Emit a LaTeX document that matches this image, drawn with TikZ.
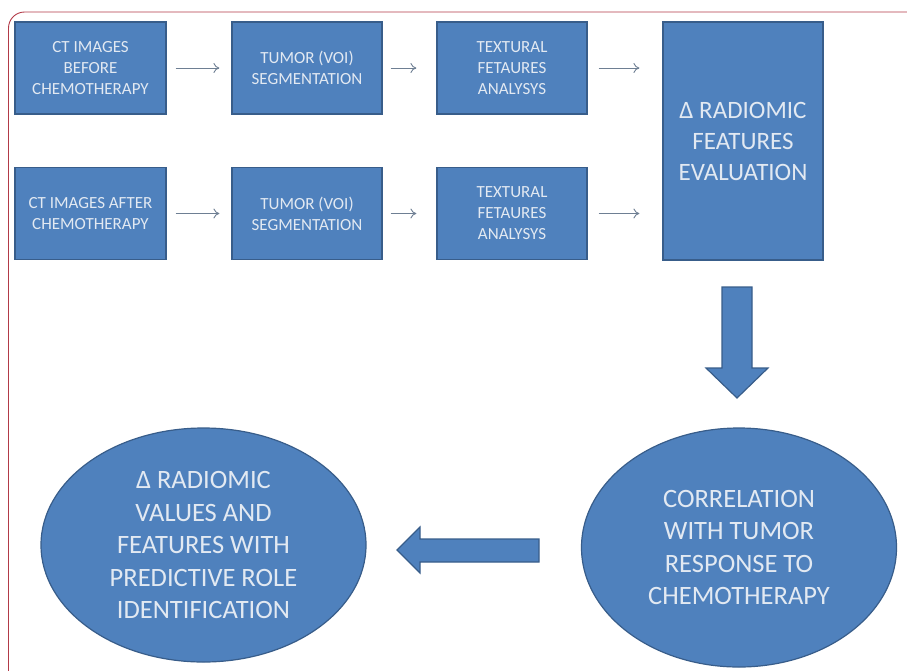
\documentclass[tikz,border=0pt]{standalone}
\usepackage{fontspec}
\setmainfont{Carlito}
\usetikzlibrary{shapes.geometric,arrows.meta}
\definecolor{boxblue}{HTML}{4F81BD}
\definecolor{boxedge}{HTML}{385D8A}
\definecolor{txt}{HTML}{E2E9F2}
\definecolor{arrgray}{HTML}{6E7F93}
\definecolor{frame}{HTML}{B23A48}
\tikzset{
  stepbox/.style={draw=boxedge, line width=1.2pt, fill=boxblue, text=txt, align=center,
    inner sep=0pt, font=\fontsize{17}{21}\selectfont},
  bigbox/.style={stepbox, font=\fontsize{25}{31}\selectfont},
  oval/.style={ellipse, draw=boxedge, line width=1.2pt, fill=boxblue, text=txt, align=center,
    inner sep=0pt, font=\fontsize{26.5}{32.5}\selectfont},
  thin arrow/.style={draw=arrgray, line width=0.9pt, -{To[length=6pt,width=10pt]}},
  block/.style={draw=boxedge, line width=1.2pt, fill=boxblue}
}
\begin{document}
\begin{tikzpicture}[x=1pt,y=-1pt]
\useasboundingbox (0,0) rectangle (907,670);
\begin{scope}
\clip (0,0) rectangle (907,670);
\draw[frame, line width=0.9pt, rounded corners=16pt] (8.5,12) rectangle (960,690);
\end{scope}

\node[stepbox, minimum width=151pt, minimum height=92pt] (a1) at (90.5,68) {CT IMAGES\\BEFORE\\CHEMOTHERAPY};
\node[stepbox, minimum width=150pt, minimum height=92pt] (a2) at (307,68) {TUMOR (VOI)\\SEGMENTATION};
\node[stepbox, minimum width=150pt, minimum height=92pt] (a3) at (512,68) {TEXTURAL\\FETAURES\\ANALYSYS};

\node[stepbox, minimum width=151pt, minimum height=92pt] (b1) at (90.5,213.5) {CT IMAGES AFTER\\CHEMOTHERAPY};
\node[stepbox, minimum width=150pt, minimum height=92pt] (b2) at (307,213.5) {TUMOR (VOI)\\SEGMENTATION};
\node[stepbox, minimum width=150pt, minimum height=92pt] (b3) at (512,213.5) {TEXTURAL\\FETAURES\\ANALYSYS};

\node[bigbox, minimum width=160pt, minimum height=238pt] (d) at (743,141) {Δ RADIOMIC\\FEATURES\\EVALUATION};

\node[oval, minimum width=315pt, minimum height=239pt] (c) at (739,547.5) {CORRELATION\\WITH TUMOR\\RESPONSE TO\\CHEMOTHERAPY};
\node[oval, minimum width=325pt, minimum height=234pt] (e) at (203.5,545) {Δ RADIOMIC\\VALUES AND\\FEATURES WITH\\PREDICTIVE ROLE\\IDENTIFICATION};

\draw[thin arrow, shorten <=9pt, shorten >=12pt] (a1) -- (a2);
\draw[thin arrow, shorten <=8pt, shorten >=20pt] (a2) -- (a3);
\draw[thin arrow, shorten <=11pt, shorten >=23pt] (a3.east) -- (a3.east -| d.west);
\draw[thin arrow, shorten <=9pt, shorten >=12pt] (b1) -- (b2);
\draw[thin arrow, shorten <=8pt, shorten >=20pt] (b2) -- (b3);
\draw[thin arrow, shorten <=11pt, shorten >=23pt] (b3.east) -- (b3.east -| d.west);

% block arrow down (from d to c)
\draw[block] (722,287) -- (752,287) -- (752,368) -- (768,368) -- (737,398) -- (706,368) -- (722,368) -- cycle;
% block arrow left (from c to e)
\draw[block] (539,539) -- (539,562) -- (420,562) -- (420,573) -- (397,550) -- (420,527) -- (420,539) -- cycle;
\end{tikzpicture}
\end{document}
